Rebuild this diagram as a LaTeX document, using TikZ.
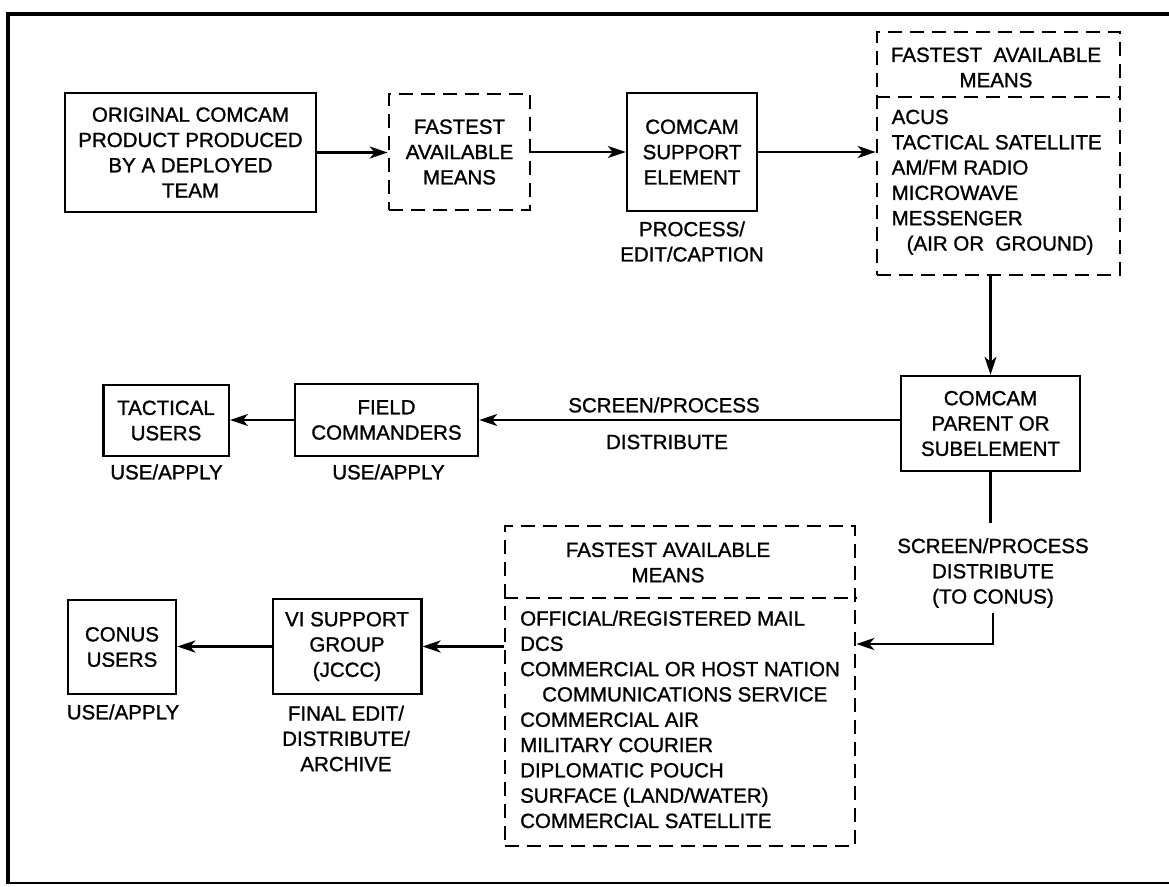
\documentclass[tikz,border=0pt]{standalone}
\usepackage{fontspec}
\setmainfont{Liberation Sans}[UprightFeatures={FakeBold=1.2}]
\usetikzlibrary{arrows.meta}

\begin{document}
\begin{tikzpicture}[x=1pt,y=-1pt,
  every node/.style={font=\fontsize{20.5}{25.3}\selectfont, inner sep=0pt},
  solidbox/.style={draw, line width=2.5pt, align=center},
  dashbox/.style={draw, line width=2.6pt, dash pattern=on 14pt off 8pt},
  divider/.style={line width=2.6pt, dash pattern=on 14pt off 8pt},
  note/.style={align=center},
  listtext/.style={align=left, anchor=north west},
  link/.style={line width=2.3pt},
  flow/.style={line width=2.3pt, -{Stealth[length=18pt,width=12pt,inset=5pt]}},
  heavyflow/.style={flow, line width=3.2pt},
]
\useasboundingbox (0,0) rectangle (1169,886);

% page frame
\draw[line width=4pt] (1180,14) -- (8,14) -- (8,884);
\draw[line width=2pt] (8,883) -- (1180,883);

% top row
\node[solidbox, minimum width=251pt, minimum height=119pt] (orig) at (190.5,152.5)
  {ORIGINAL COMCAM\\PRODUCT PRODUCED\\BY A DEPLOYED\\TEAM};
\node[dashbox, minimum width=141pt, minimum height=116pt, align=center] (fam1) at (459.5,152)
  {FASTEST\\AVAILABLE\\MEANS};
\node[solidbox, minimum width=130pt, minimum height=118pt] (cse) at (692,152)
  {COMCAM\\SUPPORT\\ELEMENT};
\node[note] (cseNote) at (692,241.5) {PROCESS/\\EDIT/CAPTION};

% upper means box
\node[dashbox, minimum width=243pt, minimum height=243pt] (fam2) at (998.5,153.5) {};
\coordinate (fam2div) at (0,97);
\draw[divider] (fam2.west |- fam2div) -- (fam2.east |- fam2div);
\node[note] (fam2head) at (996,67.5) {FASTEST\ \ AVAILABLE\\MEANS};
\node[listtext] (fam2list) at (891.5,109.5)
  {ACUS\\TACTICAL SATELLITE\\AM/FM RADIO\\MICROWAVE\\MESSENGER\\\hspace*{15pt}(AIR OR\ \ GROUND)};

\draw[flow] (orig.east) -- (fam1.west |- orig.east);
\draw[flow] (fam1.east) -- (cse.west |- fam1.east);
\draw[flow] (cse.east) -- (fam2.west |- cse.east);

% middle row
\node[solidbox, minimum width=179pt, minimum height=95pt] (parent) at (990.5,423.5)
  {COMCAM\\PARENT OR\\SUBELEMENT};
\node[solidbox, minimum width=183pt, minimum height=72pt] (field) at (386.5,420)
  {FIELD\\COMMANDERS};
\node[solidbox, minimum width=125.5pt, minimum height=71pt] (tact) at (166,420.5)
  {TACTICAL\\USERS};
\node (fieldNote) at (388.5,472) {USE/APPLY};
\node (tactNote) at (166.5,472) {USE/APPLY};
\node (scr1) at (664,405) {SCREEN/PROCESS};
\node (dist1) at (667,442) {DISTRIBUTE};

\draw[flow] (fam2.south -| parent.north) -- (parent.north);
\draw[flow] (parent.west |- field.east) -- (field.east);
\draw[flow] (field.west) -- (tact.east |- field.west);

% lower means box
\node[dashbox, minimum width=350pt, minimum height=320pt] (fam3) at (680,686) {};
\coordinate (fam3div) at (0,598);
\draw[divider] (fam3.west |- fam3div) -- (fam3.east |- fam3div);
\node[note] (fam3head) at (668,562.5) {FASTEST AVAILABLE\\MEANS};
\node[listtext] (fam3list) at (520,610.5)
  {OFFICIAL/REGISTERED MAIL\\DCS\\COMMERCIAL OR HOST NATION\\\hspace*{22pt}COMMUNICATIONS SERVICE\\COMMERCIAL AIR\\MILITARY COURIER\\DIPLOMATIC POUCH\\SURFACE (LAND/WATER)\\COMMERCIAL SATELLITE};

\node[note] (scr2) at (993,573) {SCREEN/PROCESS\\DISTRIBUTE\\(TO CONUS)};
\coordinate (p1) at (992,523);
\coordinate (p2) at (993,613);
\coordinate (p3) at (993,644);
\draw[link] (parent.south) -- (parent.south |- p1);
\draw[flow] (p2) -- (p3) -- (p3 -| fam3.east);

% bottom row
\node[solidbox, minimum width=148.5pt, minimum height=95pt] (vi) at (347,646.5)
  {VI SUPPORT\\GROUP\\(JCCC)};
\node[note] (viNote) at (346,738.5) {FINAL EDIT/\\DISTRIBUTE/\\ARCHIVE};
\node[solidbox, minimum width=108pt, minimum height=94pt] (conus) at (122,647)
  {CONUS\\USERS};
\node (conusNote) at (123,712) {USE/APPLY};

\draw[heavyflow] (fam3.west |- vi.east) -- (vi.east);
\draw[heavyflow] (vi.west) -- (conus.east |- vi.west);
\end{tikzpicture}
\end{document}
